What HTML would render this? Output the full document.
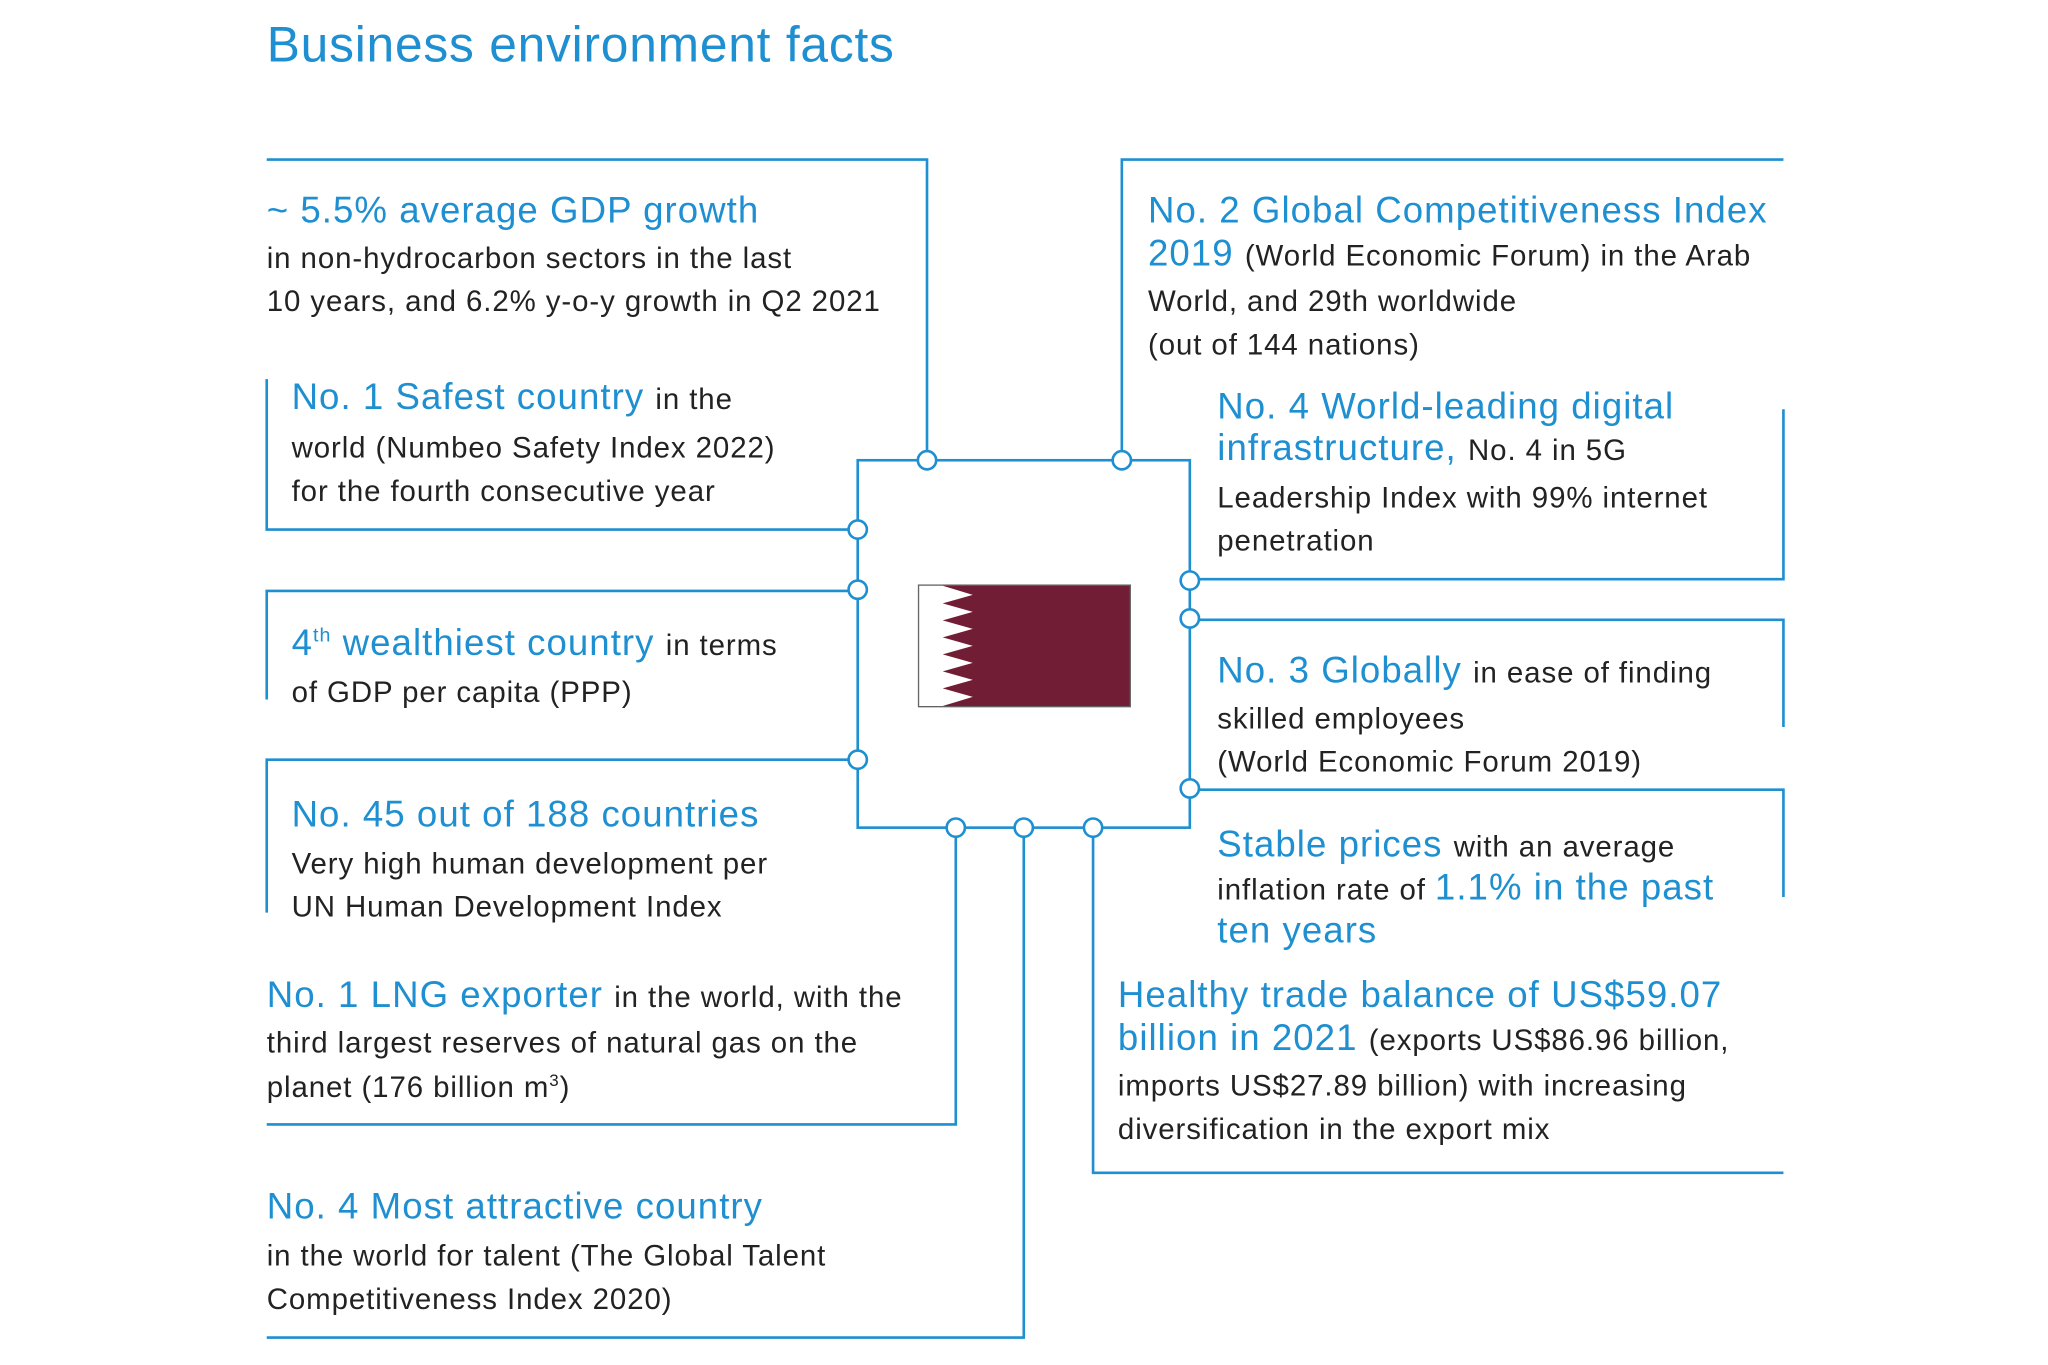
<!DOCTYPE html>
<html><head><meta charset="utf-8"><style>
html,body{margin:0;padding:0;background:#fff;}
#root{position:relative;width:2048px;height:1365px;overflow:hidden;}
#w{position:absolute;left:0;top:0;width:1566px;height:1044px;transform:scale(1.3075);transform-origin:0 0;font-family:"Liberation Sans",sans-serif;}
.L{position:absolute;font-size:28px;line-height:27px;white-space:nowrap;color:#1e8fd0;letter-spacing:0.8px;}
.b{font-size:22.5px;color:#222;letter-spacing:0.7px;}
.t{position:absolute;left:204px;top:14px;font-size:38px;color:#1e8fd0;white-space:nowrap;letter-spacing:0.6px;}
sup{line-height:0;}
svg{position:absolute;left:0;top:0;}
</style></head><body><div id="root"><div id="w">
<svg width="1566" height="1044" viewBox="0 0 1566 1044">
<g stroke="#1e8fd0" stroke-width="2" fill="none">
<polyline points="204,122 709,122 709,352"/>
<polyline points="204,290 204,405 656,405"/>
<rect x="656" y="352" width="254" height="281"/>
<polyline points="858,352 858,122 1364,122"/>
<polyline points="1364,313 1364,443 910,443"/>
<polyline points="910,474 1364,474 1364,556"/>
<polyline points="910,604 1364,604 1364,686"/>
<polyline points="656,452 204,452 204,535"/>
<polyline points="656,581 204,581 204,698"/>
<polyline points="731,633 731,860 204,860"/>
<polyline points="783,633 783,1023 204,1023"/>
<polyline points="836,633 836,897 1364,897"/>
</g>
<g stroke="#1e8fd0" stroke-width="2" fill="#fff">
<circle cx="709" cy="352" r="7"/><circle cx="858" cy="352" r="7"/>
<circle cx="656" cy="405" r="7"/><circle cx="656" cy="451" r="7"/><circle cx="656" cy="581" r="7"/>
<circle cx="910" cy="444" r="7"/><circle cx="910" cy="473" r="7"/><circle cx="910" cy="603" r="7"/>
<circle cx="731" cy="633" r="7"/><circle cx="783" cy="633" r="7"/><circle cx="836" cy="633" r="7"/>
</g>
<rect x="702.5" y="447.5" width="162" height="93" fill="#721d36" stroke="#666" stroke-width="1"/>
<polygon fill="#fff" points="703,448 721,448 744,455 721,461.5 744,468 721,474.5 744,481 721,487.5 744,494 721,500.5 744,507 721,513.5 744,520 721,526.5 744,533 721,540 703,540"/>
</svg>
<div class="t">Business environment facts</div>

<div class="L" style="left:204px;top:147px">~ 5.5% average GDP growth</div>
<div class="L" style="left:204px;top:182px"><span class="b">in non-hydrocarbon sectors in the last</span></div>
<div class="L" style="left:204px;top:215px"><span class="b">10 years, and 6.2% y-o-y growth in Q2 2021</span></div>

<div class="L" style="left:223px;top:290px">No. 1 Safest country <span class="b">in the</span></div>
<div class="L" style="left:223px;top:327px"><span class="b">world (Numbeo Safety Index 2022)</span></div>
<div class="L" style="left:223px;top:360px"><span class="b">for the fourth consecutive year</span></div>

<div class="L" style="left:223px;top:478px">4<sup style="font-size:15px">th</sup> wealthiest country <span class="b">in terms</span></div>
<div class="L" style="left:223px;top:514px"><span class="b">of GDP per capita (PPP)</span></div>

<div class="L" style="left:223px;top:609px">No. 45 out of 188 countries</div>
<div class="L" style="left:223px;top:645px"><span class="b">Very high human development per</span></div>
<div class="L" style="left:223px;top:678px"><span class="b">UN Human Development Index</span></div>

<div class="L" style="left:204px;top:747px">No. 1 LNG exporter <span class="b">in the world, with the</span></div>
<div class="L" style="left:204px;top:782px"><span class="b">third largest reserves of natural gas on the</span></div>
<div class="L" style="left:204px;top:816px"><span class="b">planet (176 billion m<sup style="font-size:13px">3</sup>)</span></div>

<div class="L" style="left:204px;top:909px">No. 4 Most attractive country</div>
<div class="L" style="left:204px;top:945px"><span class="b">in the world for talent (The Global Talent</span></div>
<div class="L" style="left:204px;top:978px"><span class="b">Competitiveness Index 2020)</span></div>

<div class="L" style="left:878px;top:147px">No. 2 Global Competitiveness Index</div>
<div class="L" style="left:878px;top:180px">2019 <span class="b">(World Economic Forum) in the Arab</span></div>
<div class="L" style="left:878px;top:215px"><span class="b">World, and 29th worldwide</span></div>
<div class="L" style="left:878px;top:248px"><span class="b">(out of 144 nations)</span></div>

<div class="L" style="left:931px;top:297px">No. 4 World-leading digital</div>
<div class="L" style="left:931px;top:329px">infrastructure, <span class="b">No. 4 in 5G</span></div>
<div class="L" style="left:931px;top:365px"><span class="b">Leadership Index with 99% internet</span></div>
<div class="L" style="left:931px;top:398px"><span class="b">penetration</span></div>

<div class="L" style="left:931px;top:499px">No. 3 Globally <span class="b">in ease of finding</span></div>
<div class="L" style="left:931px;top:534px"><span class="b">skilled employees</span></div>
<div class="L" style="left:931px;top:567px"><span class="b">(World Economic Forum 2019)</span></div>

<div class="L" style="left:931px;top:632px">Stable prices <span class="b">with an average</span></div>
<div class="L" style="left:931px;top:665px"><span class="b">inflation rate of </span>1.1% in the past</div>
<div class="L" style="left:931px;top:698px">ten years</div>

<div class="L" style="left:855px;top:747px">Healthy trade balance of US$59.07</div>
<div class="L" style="left:855px;top:780px">billion in 2021 <span class="b">(exports US$86.96 billion,</span></div>
<div class="L" style="left:855px;top:815px"><span class="b">imports US$27.89 billion) with increasing</span></div>
<div class="L" style="left:855px;top:848px"><span class="b">diversification in the export mix</span></div>
</div></div></body></html>
